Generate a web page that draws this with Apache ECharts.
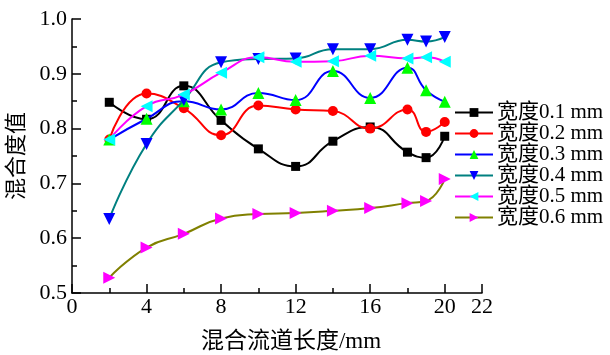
<!DOCTYPE html>
<html><head><meta charset="utf-8">
<script src="https://cdn.jsdelivr.net/npm/echarts@6/dist/echarts.min.js"></script>
<style>html,body{margin:0;padding:0;background:#fff}#c{width:610px;height:355px}</style>
</head><body><div id="c"></div>
<script>
const xValues = [2,4,6,8,10,12,14,16,18,19,20];
const w01 = [0.848,0.817,0.878,0.815,0.763,0.731,0.777,0.803,0.757,0.747,0.786];
const w02 = [0.780,0.864,0.837,0.788,0.842,0.835,0.832,0.800,0.835,0.794,0.812];
const w03 = [0.780,0.818,0.850,0.835,0.865,0.852,0.905,0.856,0.911,0.870,0.849];
const w04 = [0.635,0.772,0.852,0.921,0.927,0.928,0.945,0.945,0.962,0.959,0.967];
const w05 = [0.780,0.841,0.862,0.902,0.930,0.922,0.923,0.933,0.928,0.930,0.922];
const w06 = [0.528,0.583,0.608,0.636,0.644,0.646,0.650,0.655,0.664,0.668,0.708];
const seriesNames = ['宽度0.1 mm','宽度0.2 mm','宽度0.3 mm','宽度0.4 mm','宽度0.5 mm','宽度0.6 mm'];
const xTickLabels = [0,4,8,12,16,20,22];
const xTitle = '混合流道长度/mm';
const yTitle = '混合度值';

const FONT = '"Liberation Serif","Times New Roman","Noto Sans CJK SC",serif';
const styles = [
  {line:'#000000', marker:'#000000', symbol:'rect', rot:0},
  {line:'#ff0000', marker:'#ff0000', symbol:'circle', rot:0},
  {line:'#0000ff', marker:'#00ff00', symbol:'triangle', rot:0},
  {line:'#008080', marker:'#0000ff', symbol:'triangle', rot:180},
  {line:'#ff00ff', marker:'#00ffff', symbol:'triangle', rot:90},
  {line:'#808000', marker:'#ff00ff', symbol:'triangle', rot:-90}
];
const allData = [w01,w02,w03,w04,w05,w06];

const chart = echarts.init(document.getElementById('c'));
chart.setOption({
  animation:false,
  backgroundColor:'#fff',
  grid:{left:72,right:128,top:19,bottom:62,containLabel:false,outerBoundsMode:'none'},
  legend:{
    orient:'vertical', left:449, top:97,
    itemWidth:38, itemHeight:11, itemGap:0,
    textStyle:{fontFamily:FONT,fontSize:21,color:'#000',lineHeight:20,padding:[0,0,0,-1]},
    data:seriesNames
  },
  xAxis:[{
    type:'value', min:0, max:22, interval:2,
    name:xTitle, nameLocation:'middle', nameGap:37,
    nameTextStyle:{fontFamily:FONT,fontSize:23,color:'#000',padding:[0,0,0,28]},
    axisLine:{show:true,lineStyle:{color:'#000',width:1.5}},
    axisTick:{show:true,inside:true,length:5,lineStyle:{color:'#000',width:1.5}},
    axisLabel:{fontFamily:FONT,fontSize:22,color:'#000',margin:3,
      formatter:function(v){return xTickLabels.indexOf(v)>=0?String(v):'';}},
    splitLine:{show:false}
  },{
    type:'value', min:0, max:22, interval:4, position:'bottom',
    axisLine:{show:false},
    axisTick:{show:true,inside:true,length:9,lineStyle:{color:'#000',width:1.5}},
    axisLabel:{show:false}, splitLine:{show:false}
  }],
  yAxis:{
    type:'value', min:0.5, max:1.0, interval:0.1,
    name:yTitle, nameLocation:'middle', nameGap:44, nameRotate:90,
    nameTextStyle:{fontFamily:FONT,fontSize:22,color:'#000'},
    axisLine:{show:true,lineStyle:{color:'#000',width:1.5}},
    axisTick:{show:true,inside:true,length:9,lineStyle:{color:'#000',width:1.5}},
    minorTick:{show:true,splitNumber:2,length:5,lineStyle:{color:'#000',width:1.5}},
    axisLabel:{fontFamily:FONT,fontSize:22,color:'#000',margin:5,
      formatter:function(v){return v.toFixed(1);}},
    splitLine:{show:false}
  },
  series: allData.map(function(d,i){
    const s = styles[i];
    return {
      name:seriesNames[i], type:'line', smooth:0.5,
      data:xValues.map(function(x,j){return [x,d[j]];}),
      symbol:s.symbol, symbolSize:s.symbol==='rect'?9:(s.symbol==='circle'?10:12),
      symbolRotate:s.rot,
      lineStyle:{color:s.line,width:2},
      itemStyle:{color:s.marker,borderWidth:0},
      color:s.line,
      z:2+i
    };
  })
});
</script></body></html>
